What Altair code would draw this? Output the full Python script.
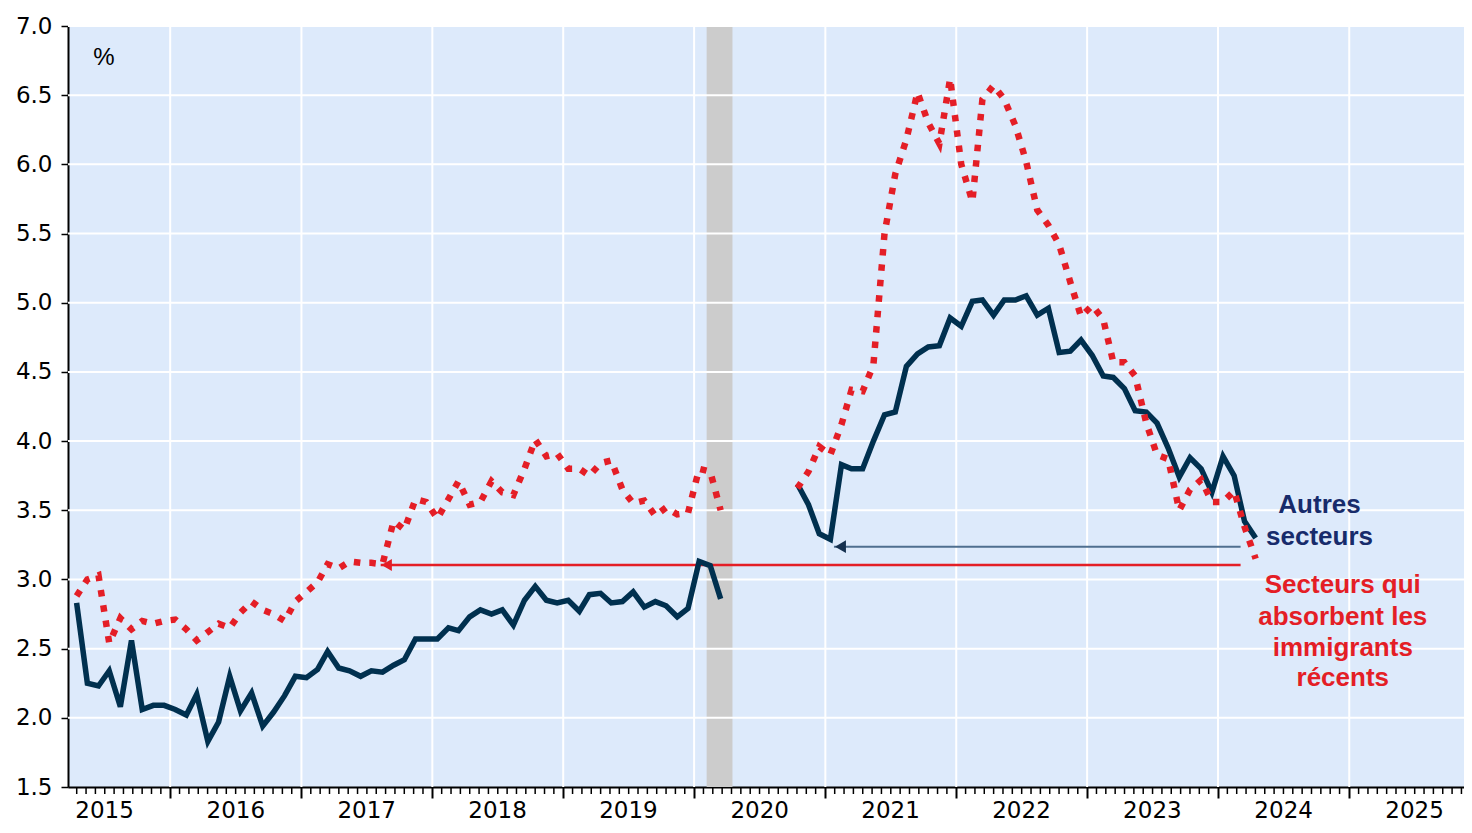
import altair as alt
import pandas as pd

# ---------------- data (monthly) ----------------
# Segment 1: Apr 2015 - Mar 2020 ; Segment 2: Oct 2020 - Apr 2024
autres_1 = [2.83, 2.25, 2.23, 2.34, 2.08, 2.56, 2.06, 2.09, 2.09,
            2.06, 2.02, 2.17, 1.83, 1.97, 2.30, 2.05, 2.18, 1.94, 2.04, 2.16, 2.30,
            2.29, 2.35, 2.48, 2.36, 2.34, 2.30, 2.34, 2.33, 2.38, 2.42, 2.57, 2.57,
            2.57, 2.65, 2.63, 2.73, 2.78, 2.75, 2.78, 2.67, 2.85, 2.95, 2.85, 2.83,
            2.85, 2.77, 2.89, 2.90, 2.83, 2.84, 2.91, 2.80, 2.84, 2.81, 2.73, 2.79,
            3.13, 3.10, 2.86]
autres_2 = [3.69, 3.54, 3.33,
            3.29, 3.83, 3.80, 3.80, 4.00, 4.19, 4.21, 4.54, 4.63, 4.68, 4.69, 4.89,
            4.83, 5.01, 5.02, 4.91, 5.02, 5.02, 5.05, 4.91, 4.96, 4.64, 4.65, 4.73,
            4.62, 4.47, 4.46, 4.38, 4.22, 4.21, 4.13, 3.95, 3.74, 3.88, 3.80, 3.63,
            3.89, 3.75, 3.42, 3.30]
immig_1 = [2.88, 3.00, 3.03, 2.54, 2.72, 2.64, 2.70, 2.68, 2.70,
           2.71, 2.64, 2.56, 2.62, 2.68, 2.65, 2.76, 2.84, 2.78, 2.75, 2.70, 2.84,
           2.91, 2.98, 3.11, 3.08, 3.13, 3.12, 3.12, 3.11, 3.42, 3.36, 3.58, 3.56,
           3.44, 3.58, 3.71, 3.54, 3.56, 3.71, 3.63, 3.61, 3.80, 4.01, 3.89, 3.91,
           3.80, 3.80, 3.75, 3.84, 3.86, 3.65, 3.55, 3.57, 3.46, 3.52, 3.47, 3.48,
           3.80, 3.78, 3.50]
immig_2 = [3.66, 3.78, 3.96,
           3.90, 4.12, 4.37, 4.36, 4.55, 5.50, 5.93, 6.18, 6.52, 6.30, 6.15, 6.62,
           6.00, 5.73, 6.47, 6.57, 6.47, 6.28, 6.02, 5.67, 5.56, 5.42, 5.15, 4.90,
           4.98, 4.88, 4.57, 4.57, 4.47, 4.13, 3.90, 3.87, 3.50, 3.65, 3.72, 3.56,
           3.56, 3.64, 3.38, 3.15]

seg1_start, seg2_start = "2015-04-01", "2020-10-01"

year_ticks = list(range(2016, 2026))
year_labels = list(range(2015, 2026))
y_ticks = [1.5, 2.0, 2.5, 3.0, 3.5, 4.0, 4.5, 5.0, 5.5, 6.0, 6.5, 7.0]

band_start, band_end = "2020-02-05", "2020-04-17"

arrow_end = "2024-03-04"
arrow_tips = ["2021-01-25", "2017-08-10"]
arrow_levels = [3.237, 3.105]

label_autres = ["Autres", "secteurs"]
label_autres_y = [3.478, 3.249]
label_autres_date = "2024-10-10"
label_immig = ["Secteurs qui", "absorbent les", "immigrants", "récents"]
label_immig_y = [2.900, 2.674, 2.450, 2.230]
label_immig_date = "2024-12-14"

NAVY = "#00304f"
RED = "#e41e26"
TEXT_NAVY = "#172b6b"
BG = "#ddeafb"

W, H = 1396, 761

# ---------------- tables ----------------
def monthly(start, n):
    return pd.date_range(start, periods=n, freq="MS") + pd.Timedelta(days=14)

rows = []
for name, s1, s2 in [("autres", autres_1, autres_2), ("immig", immig_1, immig_2)]:
    for d, v in zip(monthly(seg1_start, len(s1)), s1):
        rows.append({"date": d, "value": v, "series": name, "seg": name + "1"})
    for d, v in zip(monthly(seg2_start, len(s2)), s2):
        rows.append({"date": d, "value": v, "series": name, "seg": name + "2"})
df = pd.DataFrame(rows)
df_a = df[df.series == "autres"]
df_i = df[df.series == "immig"]

dom0 = pd.Timestamp("2015-03-22")
dom1 = pd.Timestamp("2025-11-17")

xs = alt.Scale(domain=[alt.DateTime(year=2015, month=3, date=22),
                       alt.DateTime(year=2025, month=11, date=17)])
ys = alt.Scale(domain=[1.5, 7.0], nice=False, zero=False)

x_axis = alt.Axis(
    values=[alt.DateTime(year=y, month=1, date=1) for y in year_ticks],
    labels=False, title=None, grid=False, tickSize=11, tickWidth=2,
    tickColor="black", domainColor="black", domainWidth=2)
y_axis = alt.Axis(
    values=y_ticks, format=".1f", title=None, grid=False, tickSize=7,
    tickWidth=1.5, tickColor="black", domainColor="black", domainWidth=2,
    labelFont="DejaVu Sans", labelFontSize=23, labelColor="black",
    labelPadding=9)

df_vgrid = pd.DataFrame({"date": [pd.Timestamp(f"{y}-01-01") for y in year_ticks]})
df_hgrid = pd.DataFrame({"value": y_ticks[1:]})
df_band = pd.DataFrame({"start": [pd.Timestamp(band_start)], "end": [pd.Timestamp(band_end)]})
df_years = pd.DataFrame({"date": [pd.Timestamp(f"{y}-07-02") for y in year_labels],
                         "label": [str(y) for y in year_labels]})

minor = []
for y in range(2015, 2026):
    j = pd.Timestamp(f"{y}-01-01")
    for k in range(1, 14):
        d = j + pd.Timedelta(days=365 * k / 14)
        if dom0 <= d <= dom1:
            minor.append(d)
df_minor = pd.DataFrame({"date": minor})

df_arrows = pd.DataFrame({"tip": [pd.Timestamp(t) for t in arrow_tips],
                          "end": [pd.Timestamp(arrow_end)] * 2,
                          "value": arrow_levels,
                          "kind": ["autres", "immig"]})
df_txt_a = pd.DataFrame({"date": [pd.Timestamp(label_autres_date)] * len(label_autres),
                         "value": label_autres_y, "text": label_autres})
df_txt_i = pd.DataFrame({"date": [pd.Timestamp(label_immig_date)] * len(label_immig),
                         "value": label_immig_y, "text": label_immig})


def X(f="date"):
    return alt.X(f"{f}:T", scale=xs, axis=x_axis)


def Y(f="value"):
    return alt.Y(f"{f}:Q", scale=ys, axis=y_axis)


# ---------------- layers ----------------
band = alt.Chart(df_band).mark_rect(color="#cccccc").encode(
    x=X("start"), x2="end:T")

vgrid = alt.Chart(df_vgrid).mark_rule(color="white", strokeWidth=2).encode(x=X())
hgrid = alt.Chart(df_hgrid).mark_rule(color="white", strokeWidth=2).encode(y=Y())

blue = alt.Chart(df_a).mark_line(color=NAVY, strokeWidth=5.5, strokeJoin="miter").encode(
    x=X(), y=Y(), detail="seg:N")

red = alt.Chart(df_i).mark_line(color=RED, strokeWidth=6.5, strokeDash=[6.5, 9],
                                strokeCap="butt").encode(
    x=X(), y=Y(), detail="seg:N")

arrow_a = df_arrows[df_arrows.kind == "autres"]
arrow_i = df_arrows[df_arrows.kind == "immig"]
line_a = alt.Chart(arrow_a).mark_rule(color="#4f6f8f", strokeWidth=2).encode(
    x=X("tip"), x2="end:T", y=Y())
head_a = alt.Chart(arrow_a).mark_point(shape="triangle-left", filled=True, size=160,
                                       opacity=1, color="#15304f", xOffset=6.5).encode(
    x=X("tip"), y=Y())
line_i = alt.Chart(arrow_i).mark_rule(color=RED, strokeWidth=2.5).encode(
    x=X("tip"), x2="end:T", y=Y())
head_i = alt.Chart(arrow_i).mark_point(shape="triangle-left", filled=True, size=144,
                                       opacity=1, color=RED, xOffset=6).encode(
    x=X("tip"), y=Y())

ticks = alt.Chart(df_minor).mark_rule(color="black", strokeWidth=1.5).encode(
    x=X(), y=alt.value(H), y2=alt.value(H + 7))

years = alt.Chart(df_years).mark_text(font="DejaVu Sans", fontSize=23, color="black",
                                      baseline="alphabetic", align="center").encode(
    x=X(), y=alt.value(H + 31), text="label:N")

pct = alt.Chart(df_years.head(1)).mark_text(text="%", font="Liberation Sans", fontSize=24,
                                            color="black", baseline="middle",
                                            align="center").encode(
    x=alt.value(36), y=alt.value(32))

txt_a = alt.Chart(df_txt_a).mark_text(font="Liberation Sans", fontSize=26, fontWeight="bold",
                                      color=TEXT_NAVY, baseline="alphabetic",
                                      align="center").encode(
    x=X(), y=Y(), text="text:N")
txt_i = alt.Chart(df_txt_i).mark_text(font="Liberation Sans", fontSize=26, fontWeight="bold",
                                      color=RED, baseline="alphabetic",
                                      align="center").encode(
    x=X(), y=Y(), text="text:N")

chart = alt.layer(
    band, vgrid, hgrid, line_a, line_i, blue, red, head_a, head_i,
    ticks, years, pct, txt_a, txt_i
).properties(
    width=W, height=H,
    padding={"left": 60, "top": 18, "right": 0, "bottom": 38},
    autosize=alt.AutoSizeParams(type="none"),
    background="white",
).configure_view(fill=BG, stroke=None)

chart.save("out.html", embed_options={"renderer": "svg", "actions": False})
